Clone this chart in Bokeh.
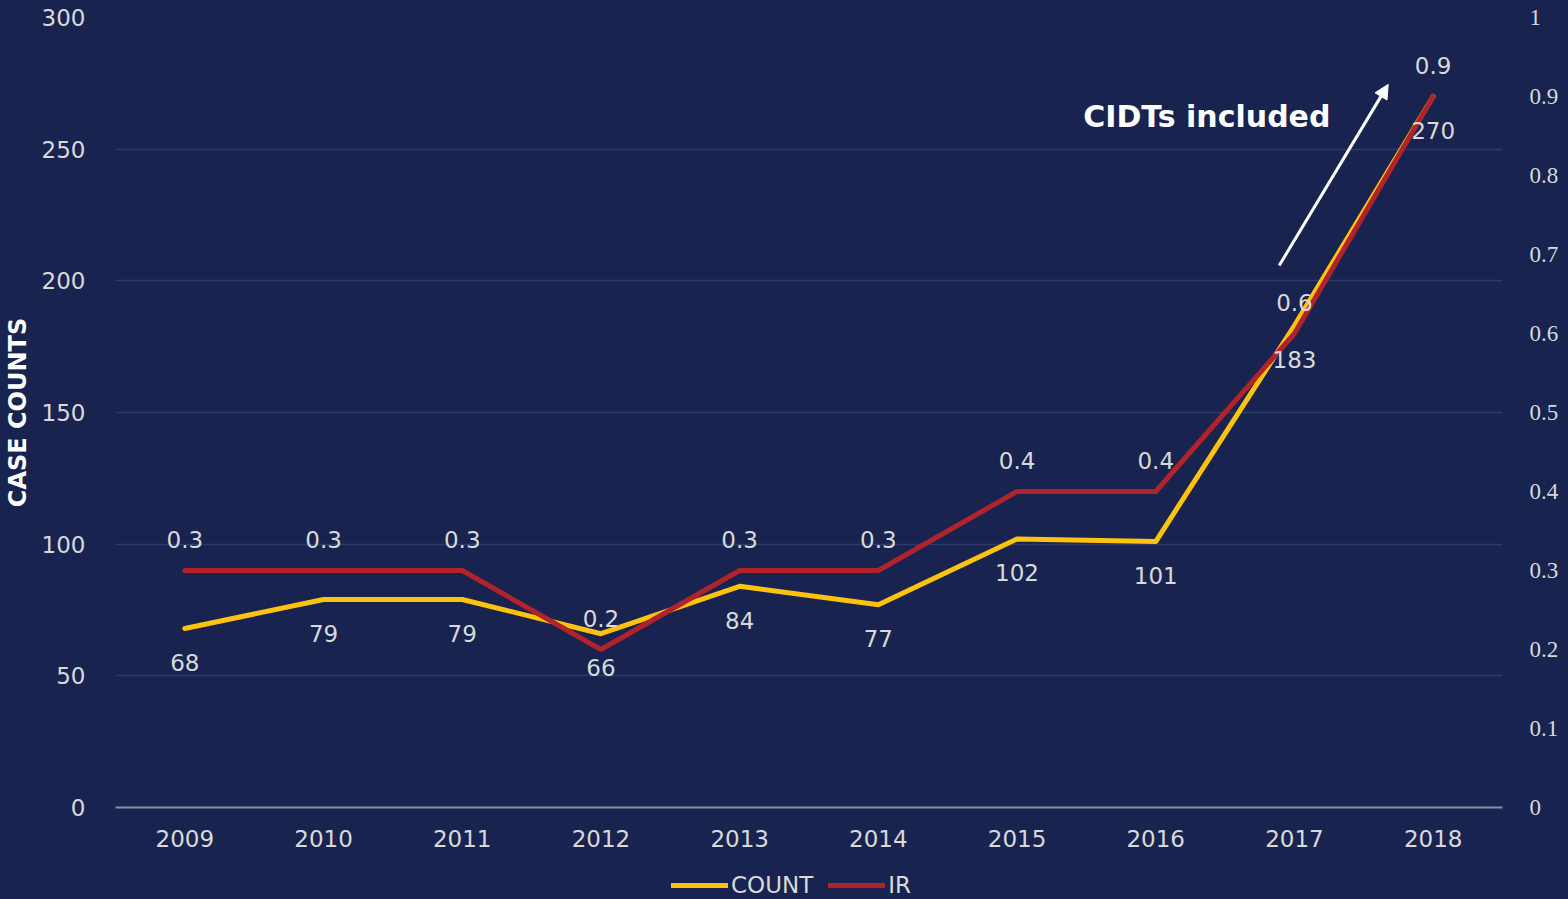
from bokeh.plotting import figure
from bokeh.layouts import column
from bokeh.models import (Range1d, LinearAxis, FixedTicker, Legend, LegendItem,
                          Arrow, NormalHead, Label, CustomJSTickFormatter)
from bokeh.core.properties import value
from bokeh.embed import file_html
from bokeh.resources import INLINE

# ---- data ----
years = [2009, 2010, 2011, 2012, 2013, 2014, 2015, 2016, 2017, 2018]
counts = [68, 79, 79, 66, 84, 77, 102, 101, 183, 270]
ir = [0.3, 0.3, 0.3, 0.2, 0.3, 0.3, 0.4, 0.4, 0.6, 0.9]
count_labels = ["68", "79", "79", "66", "84", "77", "102", "101", "183", "270"]
ir_labels = ["0.3", "0.3", "0.3", "0.2", "0.3", "0.3", "0.4", "0.4", "0.6", "0.9"]
count_ticks = [0, 50, 100, 150, 200, 250, 300]
ir_ticks = [0, 0.1, 0.2, 0.3, 0.4, 0.5, 0.6, 0.7, 0.8, 0.9, 1]
ir_tick_labels = ["0", "0.1", "0.2", "0.3", "0.4", "0.5", "0.6", "0.7", "0.8", "0.9", "1"]
series_names = ["COUNT", "IR"]
annotation_text = "CIDTs included"
arrow_start = (2016.89, 205.8)
arrow_end = (2017.676, 274.6)
annotation_pos = (2015.477, 262.4)

# ---- styles ----
BG = "#18244F"
GRID = "#2E3A6A"
BASE = "#8A8FA5"
YELLOW = "#FFC20E"
RED = "#B1232A"
TXT = "#D9D9D9"
FONT = "DejaVu Sans"
FS = "23px"

p = figure(width=1568, height=870, output_backend="svg", toolbar_location=None,
           x_range=Range1d(2008.5, 2018.5), y_range=Range1d(0, 300),
           min_border_left=115, min_border_right=66, min_border_top=17,
           min_border_bottom=63,
           background_fill_color=BG, border_fill_color=None,
           outline_line_color=None)
p.styles = {"background-color": BG}
p.extra_y_ranges = {"ir": Range1d(0, 1)}

# x axis
xa = p.xaxis[0]
xa.ticker = FixedTicker(ticks=years)
xa.major_tick_line_color = None
xa.minor_tick_line_color = None
xa.axis_line_color = BASE
xa.axis_line_width = 2
xa.major_label_text_font = FONT
xa.major_label_text_font_size = FS
xa.major_label_text_color = TXT
xa.major_label_standoff = 16

# left y axis
ya = p.yaxis[0]
ya.ticker = FixedTicker(ticks=count_ticks)
ya.major_tick_line_color = None
ya.minor_tick_line_color = None
ya.axis_line_color = None
ya.major_label_text_font = FONT
ya.major_label_text_font_size = FS
ya.major_label_text_color = TXT
ya.major_label_standoff = 24
ya.axis_label = "CASE COUNTS"
ya.axis_label_text_font = FONT
ya.axis_label_text_font_style = "bold"
ya.axis_label_text_font_size = "24px"
ya.axis_label_text_color = "white"
ya.axis_label_standoff = 7

# right y axis
ra = LinearAxis(y_range_name="ir", ticker=FixedTicker(ticks=ir_ticks),
                formatter=CustomJSTickFormatter(
                    args=dict(tvals=ir_ticks, tlabels=ir_tick_labels),
                    code="""
                    for (let i = 0; i < tvals.length; i++) {
                        if (Math.abs(tvals[i] - tick) < 1e-9) return tlabels[i];
                    }
                    return String(tick);
                    """))
ra.major_tick_line_color = None
ra.minor_tick_line_color = None
ra.axis_line_color = None
ra.major_label_text_font = "Liberation Serif"
ra.major_label_text_font_size = FS
ra.major_label_text_color = TXT
ra.major_label_standoff = 21
p.add_layout(ra, "right")

# grid
p.xgrid.grid_line_color = None
p.ygrid.grid_line_color = GRID
p.ygrid.grid_line_width = 1.5

# lines
r_count = p.line(years, counts, line_color=YELLOW, line_width=5,
                 line_cap="round", line_join="round")
r_ir = p.line(years, ir, y_range_name="ir", line_color=RED, line_width=5,
              line_cap="round", line_join="round")

# data labels
p.text(x=years, y=counts, text=count_labels, y_offset=34,
       text_align="center", text_baseline="middle",
       text_font=value(FONT), text_font_size=FS, text_color=TXT)
p.text(x=years, y=ir, text=ir_labels, y_range_name="ir", y_offset=-31,
       text_align="center", text_baseline="middle",
       text_font=value(FONT), text_font_size=FS, text_color=TXT)

# annotation
p.add_layout(Arrow(end=NormalHead(size=14, fill_color="white", line_color="white"),
                   x_start=arrow_start[0], y_start=arrow_start[1],
                   x_end=arrow_end[0], y_end=arrow_end[1],
                   line_color="white", line_width=3))
p.add_layout(Label(x=annotation_pos[0], y=annotation_pos[1], text=annotation_text,
                   text_font=FONT, text_font_style="bold", text_font_size="30px",
                   text_color="white", text_align="left", text_baseline="middle"))

# legend strip (separate small figure under the chart; its series lie
# outside its visible ranges so only the legend shows)
lg = figure(width=1568, height=29, output_backend="svg", toolbar_location=None,
            x_range=Range1d(0, 1), y_range=Range1d(0, 1),
            x_axis_location=None, y_axis_location=None,
            min_border_left=0, min_border_right=0, min_border_top=0,
            min_border_bottom=0,
            background_fill_color=BG, border_fill_color=None,
            outline_line_color=None)
lg.styles = {"background-color": BG}
lg.grid.visible = False
d_count = lg.line(x=years, y=counts, line_color=YELLOW, line_width=5,
                  line_cap="round")
d_ir = lg.line(x=years, y=counts, line_color=RED, line_width=5, line_cap="round")
legend = Legend(items=[LegendItem(label=series_names[0], renderers=[d_count]),
                       LegendItem(label=series_names[1], renderers=[d_ir])],
                orientation="horizontal", location=(556, 1),
                glyph_width=57, glyph_height=20, label_standoff=3, spacing=15,
                padding=0, margin=0, background_fill_alpha=0, border_line_alpha=0,
                label_text_font=FONT, label_text_font_size=FS,
                label_text_color=TXT)
lg.add_layout(legend)

layout = column(p, lg, spacing=0)
open("out.html", "w").write(file_html(layout, INLINE))
